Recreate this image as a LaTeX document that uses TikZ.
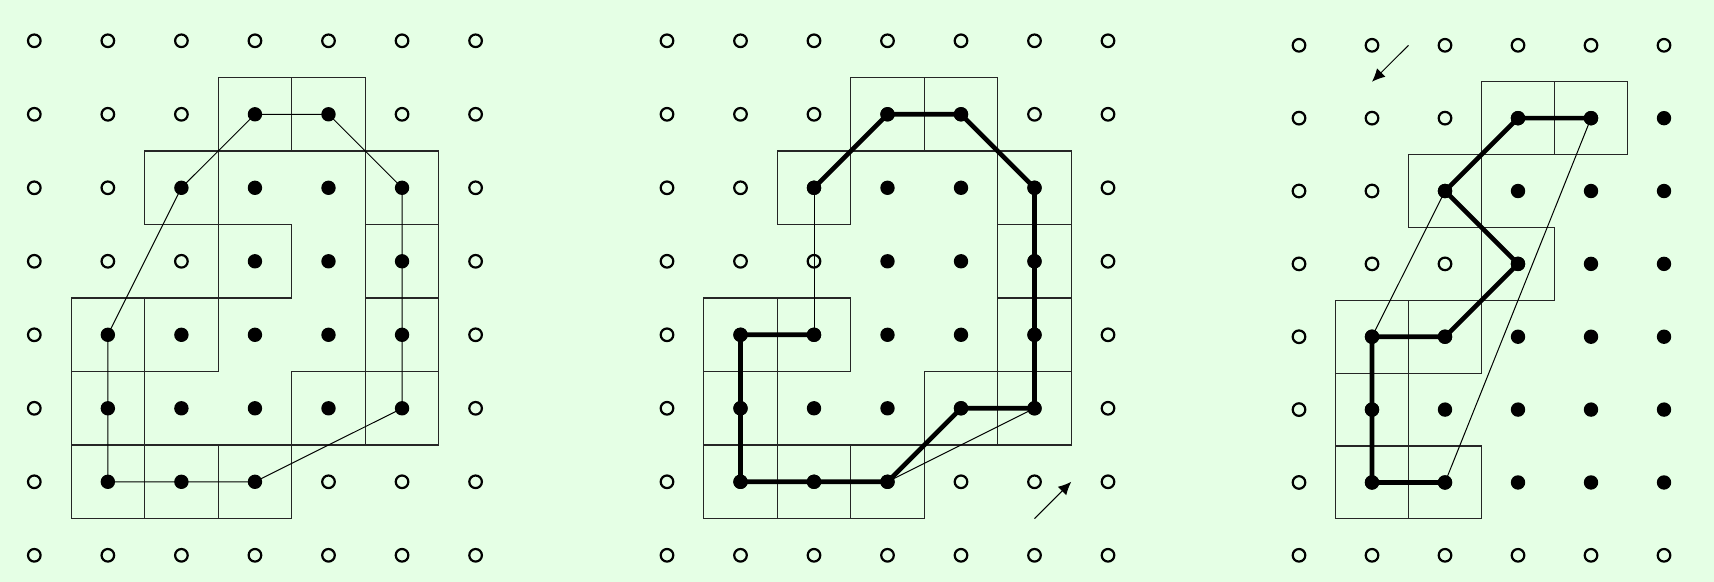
\documentclass[tikz,border=0pt]{standalone}
\usetikzlibrary{arrows.meta}
\definecolor{bgc}{RGB}{229,255,229}
\tikzset{
  odot/.style={circle,draw=black,line width=1.1pt,inner sep=0pt,minimum size=6.3pt},
  fdot/.style={circle,fill=black,inner sep=0pt,minimum size=7.2pt},
  cellbox/.style={draw=black!85,line width=0.55pt},
  thinline/.style={draw=black,line width=0.5pt},
  thickline/.style={draw=black,line width=2.3pt,line join=round},
  arr/.style={draw=black,line width=0.5pt,-{Latex[length=6.5pt,width=6pt]}}
}
\newcommand{\dotgrid}[2]{%
  \foreach \j/\pat in {#2}{%
    \foreach \v [count=\i from 0] in \pat {%
      \ifnum\v=1 \node[fdot] (#1-\i-\j) at (\i,\j) {};%
      \else \node[odot] (#1-\i-\j) at (\i,\j) {};\fi
    }%
  }%
}
\begin{document}
\begin{tikzpicture}
\fill[bgc] (0,0) rectangle (857pt,-291pt);
\useasboundingbox (0,0) rectangle (857pt,-291pt);

% ---------------- panel 1
\begin{scope}[shift={(17.15pt,-20.4pt)},x={(36.775pt,0)},y={(0,-36.75pt)}]
  \foreach \i/\j in {3/1,4/1,2/2,5/2,3/3,5/3,1/4,2/4,5/4,1/5,4/5,5/5,1/6,2/6,3/6}
    \draw[cellbox] (\i-0.5,\j-0.5) rectangle (\i+0.5,\j+0.5);
  \dotgrid{a}{0/{0,0,0,0,0,0,0},1/{0,0,0,1,1,0,0},2/{0,0,1,1,1,1,0},3/{0,0,0,1,1,1,0},4/{0,1,1,1,1,1,0},5/{0,1,1,1,1,1,0},6/{0,1,1,1,0,0,0},7/{0,0,0,0,0,0,0}}
  \draw[thinline] (a-3-1.center) -- (a-4-1.center) -- (a-5-2.center) -- (a-5-3.center) -- (a-5-4.center) -- (a-5-5.center) -- (a-3-6.center) -- (a-2-6.center) -- (a-1-6.center) -- (a-1-5.center) -- (a-1-4.center) -- (a-2-2.center) -- cycle;
\end{scope}

% ---------------- panel 2
\begin{scope}[shift={(333.5pt,-20.4pt)},x={(36.75pt,0)},y={(0,-36.75pt)}]
  \foreach \i/\j in {3/1,4/1,2/2,5/2,5/3,1/4,2/4,5/4,1/5,4/5,5/5,1/6,2/6,3/6}
    \draw[cellbox] (\i-0.5,\j-0.5) rectangle (\i+0.5,\j+0.5);
  \dotgrid{b}{0/{0,0,0,0,0,0,0},1/{0,0,0,1,1,0,0},2/{0,0,1,1,1,1,0},3/{0,0,0,1,1,1,0},4/{0,1,1,1,1,1,0},5/{0,1,1,1,1,1,0},6/{0,1,1,1,0,0,0},7/{0,0,0,0,0,0,0}}
  \draw[thinline] (b-2-4.center) -- (b-2-2.center);
  \draw[thinline] (b-3-6.center) -- (b-5-5.center);
  \draw[thickline] (b-2-2.center) -- (b-3-1.center) -- (b-4-1.center) -- (b-5-2.center) -- (b-5-3.center) -- (b-5-4.center) -- (b-5-5.center) -- (b-4-5.center) -- (b-3-6.center) -- (b-2-6.center) -- (b-1-6.center) -- (b-1-5.center) -- (b-1-4.center) -- (b-2-4.center);
  \foreach \n in {b-2-2,b-3-1,b-4-1,b-5-2,b-5-3,b-5-4,b-5-5,b-4-5,b-3-6,b-2-6,b-1-6,b-1-5,b-1-4,b-2-4}
    \node[fdot] at (\n) {};
  \coordinate (b-as) at (5,6.5);
  \coordinate (b-ae) at (5.5,6);
  \draw[arr] (b-as) -- (b-ae);
\end{scope}

% ---------------- panel 3
\begin{scope}[shift={(649.5pt,-22.65pt)},x={(36.5pt,0)},y={(0,-36.43pt)}]
  \foreach \i/\j in {3/1,4/1,2/2,3/3,1/4,2/4,1/5,1/6,2/6}
    \draw[cellbox] (\i-0.5,\j-0.5) rectangle (\i+0.5,\j+0.5);
  \dotgrid{c}{0/{0,0,0,0,0,0},1/{0,0,0,1,1,1},2/{0,0,1,1,1,1},3/{0,0,0,1,1,1},4/{0,1,1,1,1,1},5/{0,1,1,1,1,1},6/{0,1,1,1,1,1},7/{0,0,0,0,0,0}}
  \draw[thinline] (c-4-1.center) -- (c-2-6.center);
  \draw[thinline] (c-2-2.center) -- (c-1-4.center);
  \draw[thickline] (c-2-6.center) -- (c-1-6.center) -- (c-1-5.center) -- (c-1-4.center) -- (c-2-4.center) -- (c-3-3.center) -- (c-2-2.center) -- (c-3-1.center) -- (c-4-1.center);
  \foreach \n in {c-2-6,c-1-6,c-1-5,c-1-4,c-2-4,c-3-3,c-2-2,c-3-1,c-4-1}
    \node[fdot] at (\n) {};
  \coordinate (c-as) at (1.5,0);
  \coordinate (c-ae) at (1,0.5);
  \draw[arr] (c-as) -- (c-ae);
\end{scope}
\end{tikzpicture}
\end{document}
